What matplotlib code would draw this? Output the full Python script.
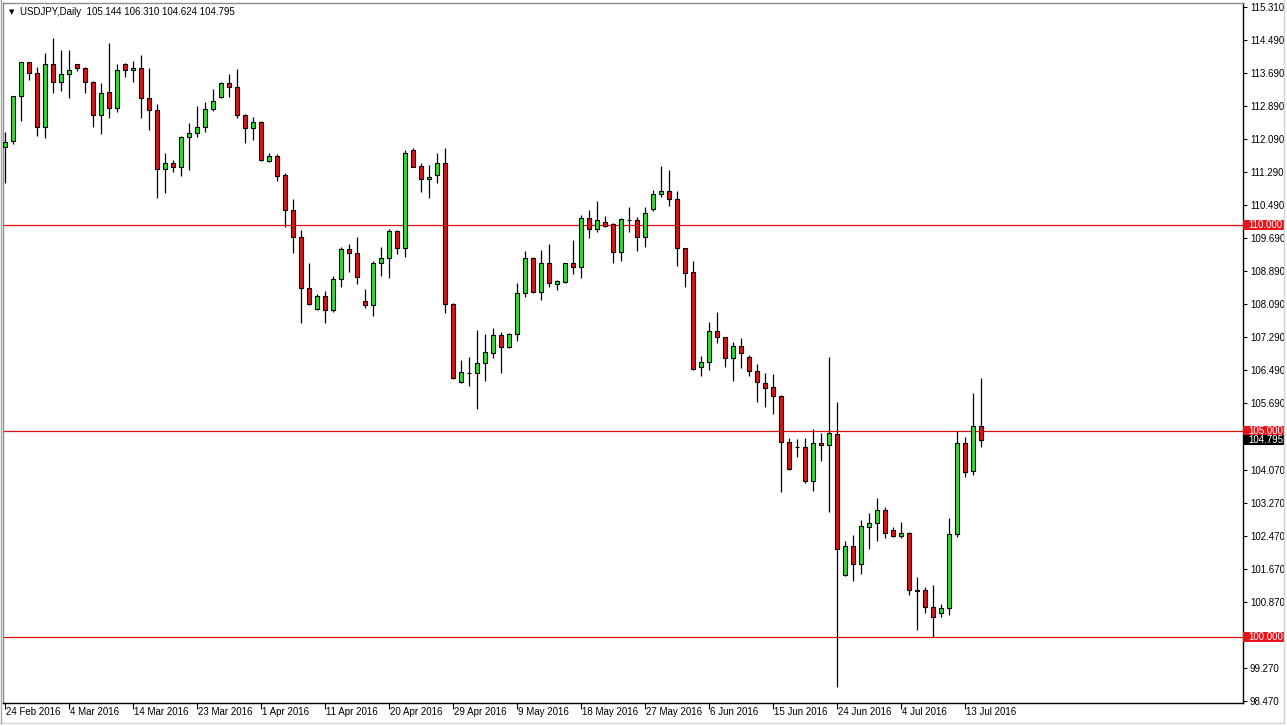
import matplotlib
matplotlib.use('Agg')
import matplotlib.pyplot as plt
from matplotlib import transforms
from matplotlib.patches import Rectangle
from matplotlib.lines import Line2D

symbol = 'USDJPY,Daily'

opens = [111.90, 112.05, 113.14, 113.96, 113.69, 112.40, 113.92, 113.48, 113.67, 113.91,
         113.82, 113.48, 112.67, 113.23, 112.84, 113.91, 113.77, 113.82, 113.09, 112.80,
         111.36, 111.51, 111.43, 112.14, 112.24, 112.40, 112.82, 113.13, 113.45, 113.35,
         112.67, 112.36, 112.52, 111.57, 111.69, 111.23, 110.38, 109.71, 108.48, 107.97,
         108.29, 107.94, 108.69, 109.43, 109.33, 108.17, 108.06, 109.08, 109.20, 109.87,
         109.45, 111.83, 111.44, 111.12, 111.23, 111.51, 108.09, 106.21, 106.43, 106.41,
         106.66, 106.91, 107.34, 107.04, 107.36, 108.35, 109.20, 108.38, 109.08, 108.57,
         108.64, 109.08, 109.00, 110.17, 109.91, 110.09, 110.03, 109.36, 110.13, 110.13,
         109.71, 110.39, 110.76, 110.84, 110.64, 109.45, 108.86, 106.56, 106.68, 107.45,
         107.29, 106.78, 107.08, 106.80, 106.48, 106.17, 106.07, 105.87, 104.75, 104.63,
         104.62, 103.81, 104.71, 104.67, 104.93, 101.52, 102.22, 101.78, 102.69, 102.79,
         103.09, 102.61, 102.47, 102.54, 101.15, 101.15, 100.75, 100.59, 100.71, 102.51,
         104.71, 104.04, 105.144]

highs = [112.28, 113.15, 113.98, 113.97, 113.84, 114.18, 114.54, 114.26, 114.26, 113.92,
         113.84, 113.51, 113.45, 114.42, 113.91, 113.94, 113.99, 114.14, 113.82, 112.94,
         111.75, 111.59, 112.17, 112.48, 112.90, 113.00, 113.31, 113.49, 113.68, 113.79,
         112.71, 112.64, 112.54, 111.77, 111.74, 111.27, 110.64, 109.89, 109.08, 108.33,
         108.42, 108.78, 109.47, 109.55, 109.71, 108.45, 109.15, 109.47, 109.91, 109.89,
         111.82, 111.87, 111.51, 111.47, 111.75, 111.87, 108.11, 106.74, 106.80, 107.46,
         107.37, 107.50, 107.42, 107.40, 108.60, 109.38, 109.23, 109.41, 109.55, 108.68,
         109.10, 109.65, 110.25, 110.38, 110.59, 110.23, 110.07, 110.17, 110.44, 110.20,
         110.44, 110.86, 111.44, 111.35, 110.84, 109.45, 109.14, 106.83, 107.65, 107.89,
         107.29, 107.16, 107.26, 106.86, 106.63, 106.43, 106.40, 105.88, 104.85, 104.81,
         104.85, 105.05, 104.96, 106.82, 105.72, 102.33, 102.49, 102.85, 103.01, 103.39,
         103.17, 102.67, 102.80, 102.55, 101.46, 101.23, 101.27, 100.81, 102.89, 105.00,
         104.86, 105.93, 106.310]

lows = [111.02, 111.97, 112.54, 113.53, 112.16, 112.13, 113.21, 113.27, 113.10, 113.75,
        113.21, 112.40, 112.21, 112.60, 112.75, 113.61, 113.49, 112.62, 112.32, 110.66,
        110.80, 111.31, 111.21, 111.35, 112.14, 112.28, 112.79, 113.10, 113.13, 112.62,
        112.01, 112.08, 111.57, 111.55, 111.09, 109.96, 109.33, 107.64, 108.07, 107.95,
        107.63, 107.89, 108.51, 108.88, 108.58, 107.99, 107.81, 108.78, 108.73, 109.31,
        109.24, 111.42, 110.82, 110.66, 111.02, 107.87, 106.27, 106.18, 106.10, 105.54,
        106.23, 106.78, 106.43, 107.03, 107.20, 108.27, 108.35, 108.19, 108.50, 108.43,
        108.61, 108.82, 108.72, 109.69, 109.83, 109.97, 109.10, 109.15, 109.85, 109.39,
        109.47, 110.34, 110.70, 110.48, 109.02, 108.51, 106.49, 106.35, 106.49, 107.14,
        106.57, 106.23, 106.55, 106.35, 105.72, 105.60, 105.42, 103.54, 104.07, 104.39,
        103.76, 103.56, 104.29, 103.05, 98.81, 101.49, 101.38, 101.54, 102.15, 102.35,
        102.42, 102.45, 102.42, 101.03, 100.18, 100.59, 100.02, 100.50, 100.55, 102.45,
        103.89, 103.94, 104.624]

closes = [112.03, 113.14, 113.96, 113.69, 112.40, 113.92, 113.48, 113.68, 113.77, 113.82,
          113.48, 112.67, 113.21, 112.84, 113.77, 113.77, 113.82, 113.09, 112.80, 111.36,
          111.51, 111.43, 112.14, 112.24, 112.40, 112.82, 113.02, 113.45, 113.35, 112.67,
          112.36, 112.52, 111.59, 111.69, 111.21, 110.37, 109.71, 108.48, 108.09, 108.29,
          107.94, 108.70, 109.44, 109.33, 108.76, 108.06, 109.08, 109.20, 109.87, 109.45,
          111.75, 111.43, 111.12, 111.18, 111.51, 108.09, 106.29, 106.44, 106.42, 106.66,
          106.92, 107.34, 107.06, 107.37, 108.35, 109.20, 108.38, 109.08, 108.61, 108.65,
          109.08, 109.00, 110.17, 109.91, 110.13, 109.99, 109.36, 110.15, 110.14, 109.71,
          110.30, 110.76, 110.84, 110.64, 109.45, 108.85, 106.52, 106.68, 107.45, 107.29,
          106.78, 107.08, 106.90, 106.48, 106.19, 106.06, 105.87, 104.75, 104.09, 104.62,
          103.80, 104.71, 104.66, 104.96, 102.14, 102.22, 101.78, 102.71, 102.77, 103.09,
          102.54, 102.47, 102.54, 101.15, 101.14, 100.75, 100.50, 100.71, 102.51, 104.71,
          104.02, 105.14, 104.795]

date_labels = ['24 Feb 2016', '4 Mar 2016', '14 Mar 2016', '23 Mar 2016', '1 Apr 2016',
               '11 Apr 2016', '20 Apr 2016', '29 Apr 2016', '9 May 2016', '18 May 2016',
               '27 May 2016', '6 Jun 2016', '15 Jun 2016', '24 Jun 2016', '4 Jul 2016',
               '13 Jul 2016']
label_every = 8

price_ticks = [115.31, 114.49, 113.69, 112.89, 112.09, 111.29, 110.49, 109.69, 108.89,
               108.09, 107.29, 106.49, 105.69, 104.07, 103.27, 102.47, 101.67, 100.87,
               99.27, 98.47]
level_lines = [110.0, 105.0, 100.0]

BULL = '#2ee02e'
BEAR = '#dc1418'
LEVEL = '#e01010'
FONT = ['Liberation Sans', 'DejaVu Sans']

W, H = 1287, 726
fig = plt.figure(figsize=(W / 100, H / 100), dpi=100, facecolor='white')
L, R, T, B = 3, 1243, 3, 703
ax = fig.add_axes([L / W, 1 - B / H, (R - L) / W, (B - T) / H])
ax.set_facecolor('white')

# faint outer window frame
fig.add_artist(Line2D([0, 1284 / W], [1 - 723 / H, 1 - 723 / H], color='#d4d4d4', lw=1))
fig.add_artist(Line2D([1284 / W, 1284 / W], [1 - 723 / H, 1], color='#d4d4d4', lw=1))
fig.add_artist(Line2D([0.5 / W, 0.5 / W], [1 - 723 / H, 1], color='#a8a8a8', lw=1))

n = len(opens)
xs = list(range(n))

for lv in level_lines:
    ax.axhline(lv, color=LEVEL, lw=0.9, zorder=1)

ax.vlines(xs, lows, highs, color='black', lw=0.9, zorder=2)

bottoms = [min(o, c) for o, c in zip(opens, closes)]
heights = [abs(c - o) for o, c in zip(opens, closes)]
colors = [BULL if c >= o else BEAR for o, c in zip(opens, closes)]
ax.bar(xs, heights, bottom=bottoms, width=0.62, color=colors, edgecolor='black',
       linewidth=0.8, zorder=3)

ax.set_xlim(-0.25, 154.75)
ax.set_ylim(98.41, 115.40)

for side, s in ax.spines.items():
    s.set_linewidth(1.0)
    s.set_color('black' if side in ('right', 'bottom') else '#8c8c8c')

ax.yaxis.tick_right()
ax.set_yticks(price_ticks)
ax.set_yticklabels([f'{v:.3f}' for v in price_ticks], fontsize=7, family=FONT)
ax.tick_params(axis='y', direction='out', length=3, width=0.8, pad=2, colors='black')

tick_idx = [i * label_every for i in range(len(date_labels))]
ax.set_xticks(tick_idx)
ax.set_xticklabels([])
ax.tick_params(axis='x', direction='out', length=4, width=0.8)
xtrans = transforms.blended_transform_factory(ax.transData, ax.transAxes)
for i, lab in zip(tick_idx, date_labels):
    ax.text(i + 0.1, -0.006, lab, transform=xtrans, ha='left', va='top',
            fontsize=7, family=FONT, color='black')

ytrans = transforms.blended_transform_factory(ax.transAxes, ax.transData)
box_w = 42 / (R - L)
box_h = 10 / 41.2
for lv in level_lines:
    ax.add_patch(Rectangle((1.0, lv - box_h / 2), box_w, box_h, transform=ytrans,
                           facecolor='#e8141c', edgecolor='none', clip_on=False, zorder=5))
    ax.text(1.004, lv, f'{lv:.3f}', transform=ytrans, ha='left', va='center',
            fontsize=7, family=FONT, color='white', zorder=6, clip_on=False)

last = closes[-1]
ax.add_patch(Rectangle((1.0, last - box_h / 2), box_w, box_h, transform=ytrans,
                       facecolor='black', edgecolor='none', clip_on=False, zorder=5))
ax.text(1.004, last, f'{last:.3f}', transform=ytrans, ha='left', va='center',
        fontsize=7, family=FONT, color='white', zorder=6, clip_on=False)

fig.text(9 / W, 1 - 12 / H, '\u25bc', fontsize=5, family=['DejaVu Sans'], va='center', ha='left')
fig.text(20 / W, 1 - 12 / H,
         f'{symbol}  {opens[-1]:.3f} {highs[-1]:.3f} {lows[-1]:.3f} {closes[-1]:.3f}',
         fontsize=7, family=FONT, va='center', ha='left')

fig.savefig('out.png', dpi=100, facecolor='white')
